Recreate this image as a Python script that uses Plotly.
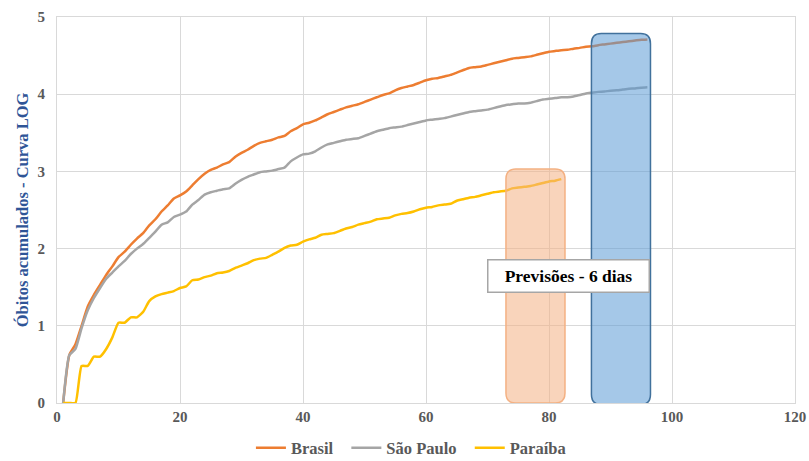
import plotly.graph_objects as go

# ---- data ----
dias_br = list(range(1, 97))
brasil = [0, 0.62, 0.76, 1.0, 1.25, 1.40, 1.53, 1.66, 1.77, 1.89,
          1.96, 2.05, 2.13, 2.20, 2.30, 2.38, 2.48, 2.56, 2.65, 2.69,
          2.74, 2.82, 2.90, 2.97, 3.02, 3.05, 3.09, 3.12, 3.19, 3.24,
          3.28, 3.33, 3.37, 3.39, 3.41, 3.44, 3.46, 3.52, 3.56, 3.61,
          3.63, 3.66, 3.70, 3.74, 3.77, 3.80, 3.83, 3.85, 3.87, 3.90,
          3.93, 3.96, 3.99, 4.01, 4.05, 4.08, 4.10, 4.12, 4.15, 4.18,
          4.20, 4.21, 4.23, 4.25, 4.28, 4.31, 4.34, 4.35, 4.36, 4.38,
          4.40, 4.42, 4.44, 4.46, 4.47, 4.48, 4.49, 4.51, 4.53, 4.55,
          4.56, 4.57, 4.575, 4.59, 4.60, 4.615, 4.62, 4.635, 4.645, 4.655,
          4.665, 4.675, 4.685, 4.695, 4.705, 4.71]

sao_paulo = [0, 0.62, 0.70, 0.97, 1.20, 1.36, 1.49, 1.61, 1.69, 1.77,
             1.84, 1.93, 2.00, 2.06, 2.14, 2.22, 2.31, 2.34, 2.41, 2.44,
             2.48, 2.57, 2.63, 2.70, 2.73, 2.75, 2.77, 2.78, 2.84, 2.89,
             2.93, 2.96, 2.99, 3.00, 3.01, 3.03, 3.05, 3.13, 3.18, 3.22,
             3.23, 3.26, 3.31, 3.35, 3.37, 3.39, 3.41, 3.42, 3.43, 3.46,
             3.49, 3.52, 3.54, 3.56, 3.57, 3.58, 3.60, 3.62, 3.64, 3.66,
             3.67, 3.68, 3.69, 3.71, 3.73, 3.75, 3.77, 3.78, 3.79, 3.80,
             3.82, 3.84, 3.86, 3.87, 3.88, 3.88, 3.89, 3.91, 3.93, 3.94,
             3.95, 3.96, 3.96, 3.97, 3.99, 4.01, 4.02, 4.03, 4.035, 4.045,
             4.05, 4.06, 4.07, 4.075, 4.085, 4.09]

dias_pb = list(range(1, 83))
paraiba = [0, 0, 0, 0.48, 0.48, 0.60, 0.60, 0.70, 0.85, 1.04,
           1.04, 1.11, 1.11, 1.18, 1.32, 1.38, 1.41, 1.43, 1.45, 1.49,
           1.51, 1.59, 1.60, 1.63, 1.65, 1.68, 1.69, 1.71, 1.75, 1.78,
           1.81, 1.85, 1.87, 1.88, 1.92, 1.96, 2.01, 2.04, 2.05, 2.09,
           2.12, 2.14, 2.18, 2.19, 2.20, 2.23, 2.26, 2.28, 2.31, 2.33,
           2.35, 2.38, 2.39, 2.40, 2.43, 2.45, 2.46, 2.48, 2.51, 2.53,
           2.54, 2.56, 2.57, 2.58, 2.62, 2.64, 2.66, 2.67, 2.69, 2.71,
           2.73, 2.74, 2.75, 2.78, 2.79, 2.80, 2.81, 2.83, 2.85, 2.87,
           2.88, 2.90]

series_names = ["Brasil", "São Paulo", "Paraíba"]
x_ticks = [0, 20, 40, 60, 80, 100, 120]
y_ticks = [0, 1, 2, 3, 4, 5]

colors = ["#ED7D31", "#A5A5A5", "#FFC000"]
SERIF = "Liberation Serif"

fig = go.Figure()
for name, xs, ys, c in zip(series_names,
                           [dias_br, dias_br, dias_pb],
                           [brasil, sao_paulo, paraiba], colors):
    fig.add_trace(go.Scatter(x=xs, y=ys, name=name + "\u00a0\u00a0", mode="lines",
                             line=dict(color=c, width=2.5, shape="spline", smoothing=0.5)))


def rounded(x0, x1, y0, y1, rx, ry):
    return (f"M {x0+rx},{y0} L {x1-rx},{y0} Q {x1},{y0} {x1},{y0+ry} "
            f"L {x1},{y1-ry} Q {x1},{y1} {x1-rx},{y1} L {x0+rx},{y1} "
            f"Q {x0},{y1} {x0},{y1-ry} L {x0},{y0+ry} Q {x0},{y0} {x0+rx},{y0} Z")


rx, ry = 1.6, 0.13
fig.add_shape(type="path", path=rounded(73.0, 82.6, 0.0, 3.03, rx, ry),
              xref="x", yref="y", fillcolor="rgba(244,177,131,0.55)",
              line=dict(color="#F4B183", width=1.5), layer="above")
fig.add_shape(type="path", path=rounded(86.9, 96.5, -0.02, 4.785, rx, ry),
              xref="x", yref="y", fillcolor="rgba(91,155,213,0.55)",
              line=dict(color="#41719C", width=1.5), layer="above")

fig.add_annotation(x=83.2, y=1.64, xref="x", yref="y",
                   text="<b>Previsões - 6 dias</b>", showarrow=False,
                   font=dict(family=SERIF, size=17.5, color="#000000"),
                   bgcolor="#FFFFFF", bordercolor="#A6A6A6", borderwidth=1.5,
                   width=160, height=31, borderpad=0)

# y-axis title as rotated text
fig.add_annotation(x=-0.047, y=0.5, xref="paper", yref="paper",
                   text="<b>Óbitos acumulados - Curva LOG</b>", showarrow=False,
                   textangle=-90, xanchor="center", yanchor="middle",
                   font=dict(family=SERIF, size=16.5, color="#2F5597"))

grid = "#D9D9D9"
fig.update_layout(
    width=809, height=461,
    margin=dict(l=57, r=14, t=17, b=58, autoexpand=False),
    paper_bgcolor="white", plot_bgcolor="white",
    showlegend=True,
    legend=dict(orientation="h", x=0.485, xanchor="center", y=-0.162, yanchor="bottom",
                font=dict(family=SERIF, size=16.5, color="#595959", weight="bold"),
                itemwidth=30, tracegroupgap=0),
    xaxis=dict(range=[0, 120], tickvals=x_ticks, ticktext=[str(v) for v in x_ticks],
               showgrid=True, gridcolor=grid, gridwidth=1, zeroline=False,
               showline=True, linecolor=grid, linewidth=1, mirror=True, automargin=False,
               ticks="", tickfont=dict(family=SERIF, size=15, color="#595959", weight="bold")),
    yaxis=dict(range=[0, 5], tickvals=y_ticks, ticktext=[str(v) for v in y_ticks],
               showgrid=True, gridcolor=grid, gridwidth=1, zeroline=False,
               showline=True, linecolor=grid, linewidth=1, mirror=True, automargin=False,
               ticks="", ticklabelstandoff=8,
               tickfont=dict(family=SERIF, size=15, color="#595959", weight="bold")),
)

fig.write_html("out.html", config={"displayModeBar": False},
               post_script="document.body.style.margin='0';document.body.style.overflow='hidden';")
